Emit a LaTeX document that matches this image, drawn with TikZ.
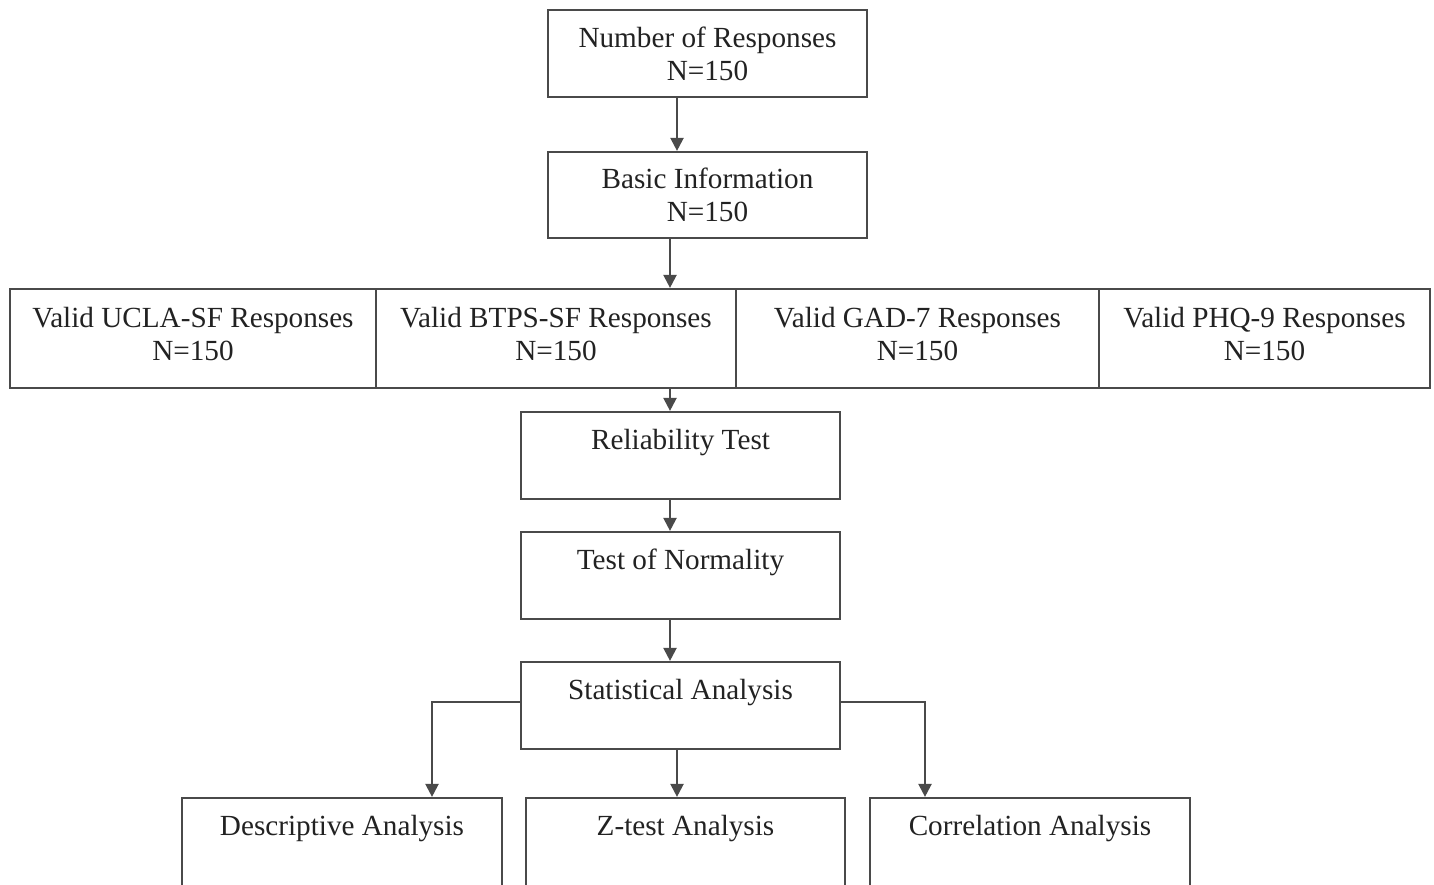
\documentclass[tikz,border=0pt]{standalone}
\usepackage{fontspec}
\setmainfont{Liberation Serif}
\usetikzlibrary{arrows.meta}
\definecolor{linegray}{HTML}{4A4A4A}
\definecolor{textgray}{HTML}{222222}
\begin{document}
\begin{tikzpicture}[x=0.5pt,y=-0.5pt,
  box/.style={draw=linegray,line width=1.1pt,rectangle,inner sep=0pt,align=center,
    text=textgray,font=\fontsize{14.6}{16.5}\selectfont},
  arr/.style={draw=linegray,line width=1.1pt,-{Triangle[length=6.5pt,width=6.5pt]}},
  conn/.style={draw=linegray,line width=1.1pt}]
\useasboundingbox (0,0) rectangle (1434,884);
\clip (0,0) rectangle (1434,884);
\fill[white] (0,0) rectangle (1434,884);
% top boxes
\node[box,minimum width=159.5pt,minimum height=43.5pt] (b1) at (707.5,53.5) {Number of Responses\\N=150};
\node[box,minimum width=159.5pt,minimum height=43pt] (b2) at (707.5,195) {Basic Information\\N=150};
% row
\node[box,minimum width=183pt,minimum height=49.5pt] (ra) at (193,338.5) {Valid UCLA-SF Responses\\N=150\\[-11.5pt]\mbox{}};
\node[box,minimum width=180pt,minimum height=49.5pt] (rb) at (556,338.5) {Valid BTPS-SF Responses\\N=150\\[-11.5pt]\mbox{}};
\node[box,minimum width=181.5pt,minimum height=49.5pt] (rc) at (917.5,338.5) {Valid GAD-7 Responses\\N=150\\[-11.5pt]\mbox{}};
\node[box,minimum width=165.5pt,minimum height=49.5pt] (rd) at (1264.5,338.5) {Valid PHQ-9 Responses\\N=150\\[-11.5pt]\mbox{}};
% middle column
\node[box,minimum width=159.5pt,minimum height=43.5pt] (rel) at (680.5,455.5) {Reliability Test\\\mbox{}};
\node[box,minimum width=159.5pt,minimum height=43.5pt] (norm) at (680.5,575.5) {Test of Normality\\\mbox{}};
\node[box,minimum width=159.5pt,minimum height=43.5pt] (stat) at (680.5,705.5) {Statistical Analysis\\\mbox{}};
% bottom boxes
\node[box,minimum width=160pt,minimum height=44pt] (desc) at (342,842) {Descriptive Analysis\\\mbox{}};
\node[box,minimum width=159.5pt,minimum height=44pt] (zt) at (685.5,842) {Z-test Analysis\\\mbox{}};
\node[box,minimum width=160pt,minimum height=44pt] (corr) at (1030,842) {Correlation Analysis\\\mbox{}};
% helper x positions
\coordinate (xa) at (677,0);
\coordinate (xb) at (670,0);
\coordinate (xl) at (432,0);
\coordinate (xr) at (925,0);
\coordinate (xm) at (677,0);
\coordinate (ys) at (0,702);
% connectors
\draw[arr] (b1.south -| xa) -- (b2.north -| xa);
\draw[arr] (b2.south -| xb) -- (rb.north -| xb);
\draw[arr] (rb.south -| xb) -- (rel.north -| xb);
\draw[arr] (rel.south -| xb) -- (norm.north -| xb);
\draw[arr] (norm.south -| xb) -- (stat.north -| xb);
\draw[arr] (stat.west |- ys) -| (desc.north -| xl);
\draw[arr] (stat.east |- ys) -| (corr.north -| xr);
\draw[arr] (stat.south -| xm) -- (zt.north -| xm);
\end{tikzpicture}
\end{document}
